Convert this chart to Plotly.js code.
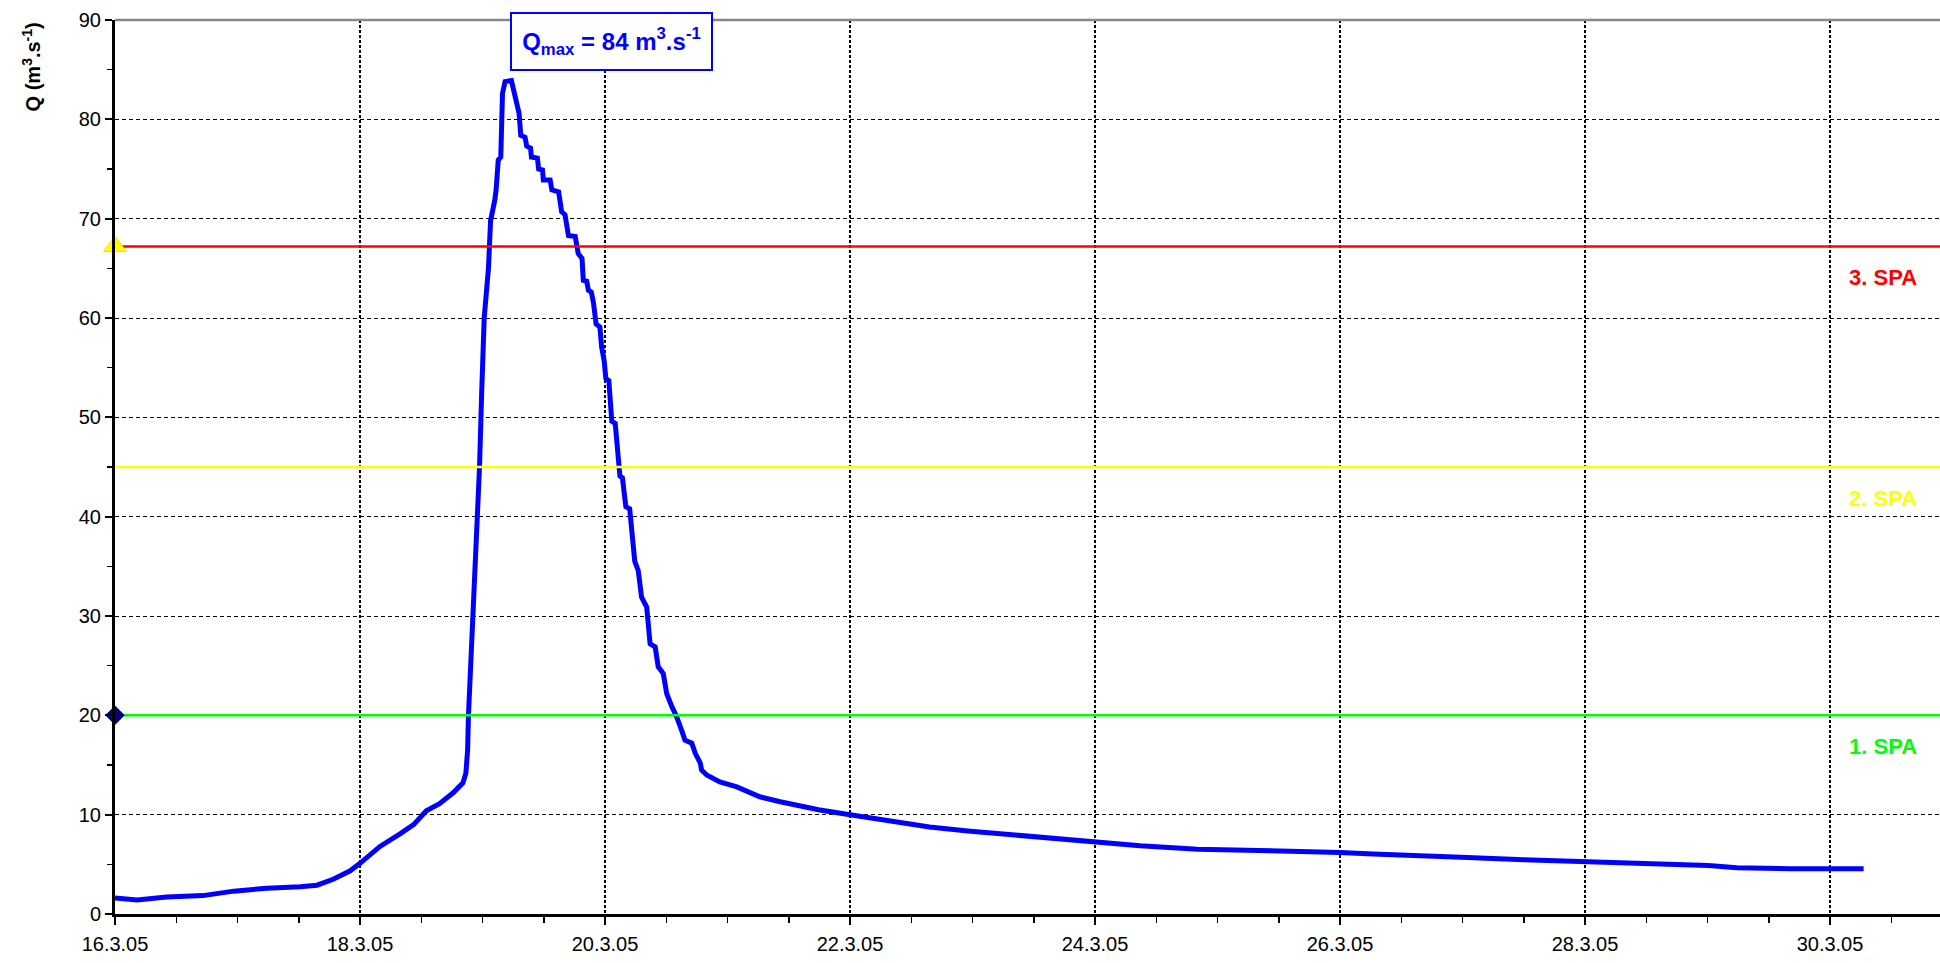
<!DOCTYPE html>
<html>
<head>
<meta charset="utf-8">
<script src="https://cdn.plot.ly/plotly-3.0.1.min.js"></script>
<style>
html, body { margin: 0; padding: 0; background: #ffffff; }
#chart { width: 1940px; height: 963px; }
</style>
</head>
<body>
<div id="chart"></div>
<script>
// ---- data ----
const timeStamps = [
  '2005-03-16 00:00','2005-03-16 04:20','2005-03-16 10:05','2005-03-16 17:15','2005-03-16 23:15',
  '2005-03-17 05:45','2005-03-17 12:15','2005-03-17 15:35','2005-03-17 18:45','2005-03-17 22:05',
  '2005-03-18 00:00','2005-03-18 03:55','2005-03-18 07:55','2005-03-18 10:30','2005-03-18 13:00',
  '2005-03-18 15:35','2005-03-18 18:15','2005-03-18 20:10','2005-03-18 20:45','2005-03-18 21:05',
  '2005-03-18 21:15','2005-03-18 21:50','2005-03-18 22:35','2005-03-18 23:00','2005-03-18 23:25',
  '2005-03-18 23:50','2005-03-19 00:20','2005-03-19 01:10','2005-03-19 01:35','2005-03-19 02:25',
  '2005-03-19 02:40','2005-03-19 03:05','2005-03-19 03:35','2005-03-19 03:55','2005-03-19 04:25',
  '2005-03-19 05:40','2005-03-19 06:20','2005-03-19 06:50','2005-03-19 07:10','2005-03-19 07:30',
  '2005-03-19 08:20','2005-03-19 08:40','2005-03-19 09:25','2005-03-19 09:35','2005-03-19 10:45',
  '2005-03-19 11:00','2005-03-19 11:45','2005-03-19 11:55','2005-03-19 13:15','2005-03-19 13:35',
  '2005-03-19 14:55','2005-03-19 15:30','2005-03-19 16:10','2005-03-19 16:50','2005-03-19 18:10',
  '2005-03-19 18:45','2005-03-19 19:30','2005-03-19 19:45','2005-03-19 20:25','2005-03-19 20:45',
  '2005-03-19 21:20','2005-03-19 21:45','2005-03-19 22:15','2005-03-19 23:00','2005-03-19 23:20',
  '2005-03-19 23:50','2005-03-20 00:10','2005-03-20 00:45','2005-03-20 01:00','2005-03-20 01:20',
  '2005-03-20 02:00','2005-03-20 02:55','2005-03-20 03:25','2005-03-20 04:05','2005-03-20 04:50',
  '2005-03-20 05:15','2005-03-20 05:50','2005-03-20 06:30','2005-03-20 07:10','2005-03-20 08:10',
  '2005-03-20 08:50','2005-03-20 09:50','2005-03-20 10:25','2005-03-20 11:25','2005-03-20 12:05',
  '2005-03-20 13:05','2005-03-20 14:00','2005-03-20 15:00','2005-03-20 15:40','2005-03-20 17:00',
  '2005-03-20 17:40','2005-03-20 18:40','2005-03-20 18:55','2005-03-20 19:55','2005-03-20 22:30',
  '2005-03-21 01:50','2005-03-21 06:20','2005-03-21 10:20','2005-03-21 14:10','2005-03-21 17:50',
  '2005-03-22 00:00','2005-03-22 08:05','2005-03-22 15:35','2005-03-22 23:05','2005-03-23 06:35',
  '2005-03-23 14:05','2005-03-23 23:45','2005-03-24 08:50','2005-03-24 20:05','2005-03-25 07:20',
  '2005-03-25 15:35','2005-03-26 00:00','2005-03-26 06:30','2005-03-26 13:40','2005-03-27 01:00',
  '2005-03-27 12:00','2005-03-28 00:00','2005-03-28 12:05','2005-03-29 00:10','2005-03-29 05:45',
  '2005-03-29 16:05','2005-03-30 06:35'
];
const discharge = [
  1.6, 1.4, 1.7, 1.85, 2.3,
  2.6, 2.75, 2.9, 3.5, 4.35,
  5.1, 6.8, 8.1, 9.0, 10.4,
  11.1, 12.2, 13.2, 14.2, 16.5,
  20.0, 26.9, 34.6, 39.8, 45.0,
  52.4, 60.0, 65.0, 69.8, 71.9,
  72.9, 75.9, 76.2, 82.6, 83.8,
  83.9, 82.6, 81.6, 80.6, 78.4,
  78.2, 77.3, 77.1, 76.2, 76.1,
  75.0, 74.9, 73.9, 73.9, 72.9,
  72.7, 70.7, 70.4, 68.3, 68.2,
  66.5, 66.0, 63.8, 63.7, 62.8,
  62.6, 61.5, 59.4, 59.1, 57.1,
  55.7, 53.9, 53.7, 51.7, 49.6,
  49.4, 44.1, 43.9, 41.0, 40.8,
  38.2, 35.5, 34.6, 31.9, 30.9,
  27.2, 26.9, 24.9, 24.2, 22.2,
  20.9, 19.9, 18.5, 17.5, 17.2,
  16.2, 15.2, 14.5, 14.0, 13.3,
  12.8, 11.8, 11.3, 10.9, 10.5,
  10.0, 9.35, 8.76, 8.36, 8.02,
  7.59, 7.2, 6.86, 6.53, 6.43,
  6.25, 6.2, 6.04, 5.87, 5.7,
  5.47, 5.27, 5.04, 4.88, 4.65,
  4.55, 4.55
];
const spaLevels = [20, 45, 67.2];
const spaLabels = ['1. SPA', '2. SPA', '3. SPA'];
const spaColors = ['#00FF00', '#FFFF00', '#FF0000'];
const tickDates = ['2005-03-16','2005-03-18','2005-03-20','2005-03-22','2005-03-24','2005-03-26','2005-03-28','2005-03-30'];
const tickLabels = ['16.3.05','18.3.05','20.3.05','22.3.05','24.3.05','26.3.05','28.3.05','30.3.05'];
const qmaxValue = 84;

// ---- layout constants ----
const xStart = '2005-03-16 00:00';
const xEnd = '2005-03-30 21:33';
const FONT = 'Liberation Sans, Arial, sans-serif';

const traces = [];
traces.push({
  x: timeStamps, y: discharge, type: 'scatter', mode: 'lines',
  line: {color: '#0000FF', width: 5}, hoverinfo: 'skip', cliponaxis: true
});
for (let i = 0; i < spaLevels.length; i++) {
  traces.push({
    x: [xStart, xEnd], y: [spaLevels[i], spaLevels[i]], type: 'scatter', mode: 'lines',
    line: {color: spaColors[i], width: 2.5}, hoverinfo: 'skip'
  });
}
// markers on the y axis
traces.push({
  x: [xStart], y: [spaLevels[0]], type: 'scatter', mode: 'markers',
  marker: {symbol: 'diamond', size: 15, color: '#000080'}, cliponaxis: false, hoverinfo: 'skip'
});
traces.push({
  x: [xStart], y: [spaLevels[2]], type: 'scatter', mode: 'markers',
  marker: {symbol: 'triangle-up', size: 20, color: '#FFFF00', line: {color: '#F0E000', width: 1}}, cliponaxis: false, hoverinfo: 'skip'
});

const annotations = [];
for (let i = 0; i < spaLevels.length; i++) {
  annotations.push({
    xref: 'paper', yref: 'y', x: 0.969, y: spaLevels[i], yshift: -31,
    xanchor: 'center', yanchor: 'middle', showarrow: false,
    text: '<b>' + spaLabels[i] + '</b>',
    font: {family: FONT, size: 22, color: spaColors[i]}
  });
}
annotations.push({
  xref: 'paper', yref: 'paper', x: 0.272, y: 0.9763,
  xanchor: 'center', yanchor: 'middle', showarrow: false,
  text: '<b>Q<sub>max</sub> = ' + qmaxValue + ' m<sup>3</sup>.s<sup>-1</sup></b>',
  font: {family: FONT, size: 24, color: '#0000FF'},
  bgcolor: '#FFFFFF', bordercolor: '#0000FF', borderwidth: 2, borderpad: 2,
  width: 195, height: 51
});
annotations.push({
  xref: 'paper', yref: 'paper', x: -0.046, y: 0.947,
  xanchor: 'center', yanchor: 'middle', showarrow: false, textangle: -90,
  text: '<b>Q (m<sup>3</sup>.s<sup>-1</sup>)</b>',
  font: {family: FONT, size: 20, color: '#000000'}
});

const layout = {
  width: 1940, height: 963,
  margin: {l: 115, r: 0, t: 20, b: 49, pad: 0},
  paper_bgcolor: '#FFFFFF', plot_bgcolor: '#FFFFFF',
  showlegend: false,
  font: {family: FONT, size: 20, color: '#000000'},
  xaxis: {
    type: 'date', range: [xStart, xEnd],
    tickmode: 'array', tickvals: tickDates, ticktext: tickLabels,
    ticks: 'outside', ticklen: 8, tickwidth: 2, tickcolor: '#000000',
    ticklabelstandoff: 2,
    tickfont: {family: FONT, size: 20, color: '#000000'},
    showline: true, linecolor: '#000000', linewidth: 3,
    showgrid: true, gridcolor: '#000000', gridwidth: 2, griddash: '3px,2px',
    zeroline: false,
    minor: {dtick: 43200000, tick0: '2005-03-16', ticks: 'outside', ticklen: 6, tickwidth: 1.5, tickcolor: '#000000', showgrid: false}
  },
  yaxis: {
    range: [0, 90], tickmode: 'linear', tick0: 0, dtick: 10,
    ticks: 'outside', ticklen: 7, tickwidth: 2, tickcolor: '#000000',
    tickfont: {family: FONT, size: 20, color: '#000000'},
    showline: true, linecolor: '#000000', linewidth: 3,
    showgrid: true, gridcolor: '#000000', gridwidth: 1, griddash: '4px,3px',
    zeroline: false,
    minor: {dtick: 5, ticks: 'outside', ticklen: 5, tickwidth: 1.5, tickcolor: '#000000', showgrid: false}
  },
  shapes: [{
    type: 'line', xref: 'paper', yref: 'paper', x0: 0, x1: 1, y0: 1, y1: 1,
    line: {color: '#888888', width: 2.5}, layer: 'above'
  }],
  annotations: annotations
};

Plotly.newPlot('chart', traces, layout, {staticPlot: true, displayModeBar: false});
</script>
</body>
</html>
